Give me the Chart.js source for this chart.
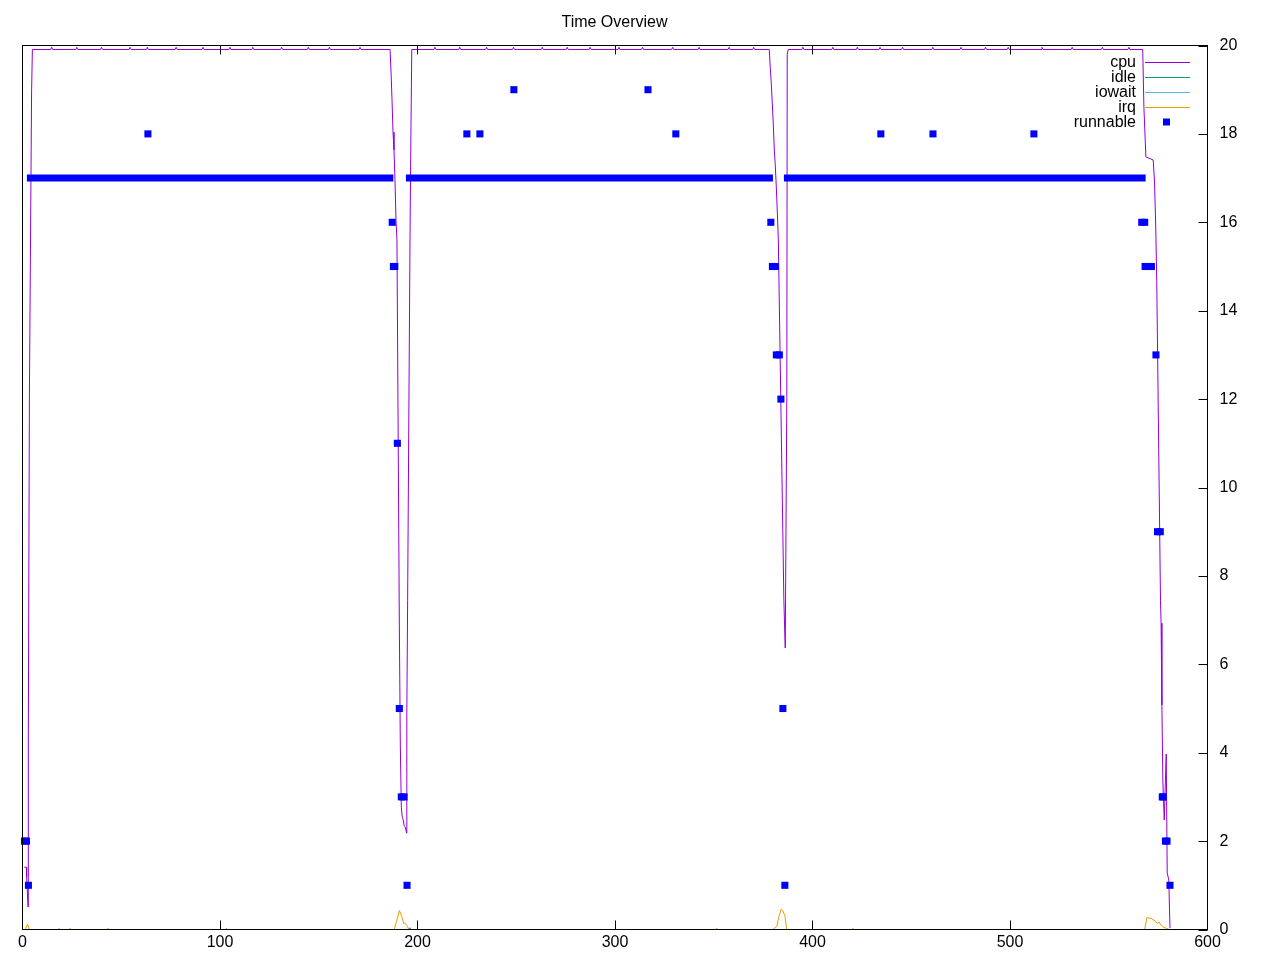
<!DOCTYPE html>
<html>
<head>
<meta charset="utf-8">
<title>Time Overview</title>
<script src="https://cdn.jsdelivr.net/npm/chart.js@4.4.1/dist/chart.umd.min.js"></script>
<style>
  html, body { margin: 0; padding: 0; background: #fff; }
  canvas { display: block; }
</style>
</head>
<body>
<canvas id="overview" width="1280" height="960"></canvas>
<script>
"use strict";

// ── Data (seconds, value) ─────────────────────────────────────────────
const seriesNames  = ['cpu', 'idle', 'iowait', 'irq', 'runnable'];
const seriesColors = ['#9400d3', '#009e73', '#56b4e9', '#e69f00', '#0000ff'];
const xTicks = [0, 100, 200, 300, 400, 500, 600];
const yTicks = [0, 2, 4, 6, 8, 10, 12, 14, 16, 18, 20];

const cpuData = [
  [0.9,1.41],[2.0,1.41],[2.1,1.19],[2.8,0.51],[2.95,4.38],[3.5,12.09],[4.6,18.95],[5.0,19.91],
  [14.3,19.91],[14.8,19.96],[15.3,19.91],
  [27.0,19.91],[27.5,19.96],[28.0,19.91],
  [39.5,19.91],[40.0,19.96],[40.5,19.91],
  [54.0,19.91],[54.5,19.96],[55.0,19.91],
  [62.7,19.91],[63.2,19.96],[63.7,19.91],
  [77.3,19.91],[77.8,19.96],[78.3,19.91],
  [90.9,19.91],[91.4,19.96],[91.9,19.91],
  [104.5,19.91],[105.0,19.96],[105.5,19.91],
  [116.1,19.91],[116.6,19.96],[117.1,19.91],
  [130.7,19.91],[131.2,19.96],[131.7,19.91],
  [144.2,19.91],[144.7,19.96],[145.2,19.91],
  [154.9,19.91],[155.4,19.96],[155.9,19.91],
  [170.4,19.91],[170.9,19.96],[171.4,19.91],
  [186.1,19.91],[186.6,19.40],[187.1,18.77],[187.6,18.04],[188.1,17.64],[188.6,16.96],
  [189.1,16.05],[189.6,15.60],[190.8,6.89],[191.3,4.17],[191.8,2.77],[192.3,2.54],
  [192.8,2.48],[193.3,2.34],[193.8,2.32],[194.5,2.18],
  [194.6,4.9],[195.0,7.45],[196.2,15.6],[196.7,18.15],[197.1,19.91],
  [208.3,19.91],[208.8,19.96],[209.3,19.91],
  [220.9,19.91],[221.4,19.96],[221.9,19.91],
  [234.5,19.91],[235.0,19.96],[235.5,19.91],
  [248.1,19.91],[248.6,19.96],[249.1,19.91],
  [262.7,19.91],[263.2,19.96],[263.7,19.91],
  [275.3,19.91],[275.8,19.96],[276.3,19.91],
  [286.9,19.91],[287.4,19.96],[287.9,19.91],
  [301.5,19.91],[302.0,19.96],[302.5,19.91],
  [313.5,19.91],[314.0,19.96],[314.5,19.91],
  [328.7,19.91],[329.2,19.96],[329.7,19.91],
  [342.1,19.91],[342.6,19.96],[343.1,19.91],
  [357.3,19.91],[357.8,19.96],[358.3,19.91],
  [369.7,19.91],[370.2,19.96],[370.7,19.91],
  [378.1,19.91],[378.6,19.50],[379.1,19.17],[379.6,18.72],[380.1,18.27],[380.6,17.70],
  [381.2,17.25],[381.7,16.78],[382.2,16.21],[382.7,15.60],[385.5,7.45],[386.2,6.37],
  [387.0,12.0],[387.2,19.8],[387.7,19.91],
  [394.6,19.91],[395.1,19.96],[395.6,19.91],
  [409.8,19.91],[410.3,19.96],[410.8,19.91],
  [422.2,19.91],[422.7,19.96],[423.2,19.91],
  [433.7,19.91],[434.2,19.96],[434.7,19.91],
  [445.1,19.91],[445.6,19.96],[446.1,19.91],
  [460.4,19.91],[460.9,19.96],[461.4,19.91],
  [474.7,19.91],[475.2,19.96],[475.7,19.91],
  [487.1,19.91],[487.6,19.96],[488.1,19.91],
  [498.6,19.91],[499.1,19.96],[499.6,19.91],
  [515.7,19.91],[516.2,19.96],[516.7,19.91],
  [531.0,19.91],[531.5,19.96],[532.0,19.91],
  [546.3,19.91],[546.8,19.96],[547.3,19.91],
  [559.7,19.91],[560.2,19.96],[560.7,19.91],
  [567.2,19.91],[567.8,18.61],[568.8,17.48],[572.5,17.41],[573.2,16.89],[573.8,15.87],
  [574.3,14.69],[576.2,7.45],[576.5,6.93],[576.9,5.08],[577.4,3.34],[578.1,2.48],
  [579.1,3.97],[579.6,1.28],[580.4,1.12],[581.0,0.03]
];

const idleData = [[0,0],[195.8,0],[196.3,0.04],[196.8,0],[581,0]];

const iowaitData = [[0,0],[581,0]];

const irqData = [
  [0,0],[1.5,0],[2.5,0.12],[3.5,0],[18,0],[18.4,0.03],[18.8,0],[23.8,0],[24.2,0.03],[24.6,0],
  [43,0],[43.4,0.03],[43.8,0],[102.8,0],[103.2,0.03],[103.6,0],
  [188.2,0],[189.5,0.2],[190.8,0.43],[192.0,0.3],[193.1,0.13],[193.5,0.15],[194.6,0.09],[195.7,0],
  [351,0],[351.4,0.03],[351.8,0],
  [380,0],[382,0.08],[383.0,0.3],[384.2,0.46],[385.0,0.42],[386.1,0.3],[386.9,0],
  [420,0],[420.4,0.03],[420.8,0],
  [568.2,0],[569.4,0.28],[570.4,0.25],[571.4,0.26],[572.4,0.22],[573.4,0.2],[574.5,0.14],
  [575.5,0.17],[576.5,0.1],[577.5,0.06],[578.5,0.04],[579.5,0.02],[580.5,0],[581,0]
];

// runnable: long runs at 17 (start, end) plus single samples
const runnableRuns = [[4,186],[195.9,378.2],[387.3,566.9]];
const runnableLevel = 17;
const runnableData = [
  [1,2],[2,2],[3,1],[63.5,18],[187.2,16],[187.8,15],[188.5,15],[189.8,11],[190.8,5],
  [191.8,3],[193.2,3],[194.7,1],[225,18],[231.6,18],[248.8,19],[316.7,19],[330.8,18],
  [378.9,16],[379.7,15],[381.2,15],[381.7,13],[383.2,13],[384,12],[385,5],[386,1],
  [434.6,18],[461,18],[512.1,18],[566.7,16],[568.2,16],[568.4,15],[570,15],[571.6,15],
  [573.9,13],[574.7,9],[576.1,9],[577.1,3],[577.6,3],[578.7,2],[579.5,2],[581,1]
];

// ── Helpers ───────────────────────────────────────────────────────────
const FONT_FAMILY = '"Liberation Sans", Arial, sans-serif';
const FONT = '16px ' + FONT_FAMILY;
const toXY = arr => arr.map(([x, y]) => ({ x, y }));

function runsToPoints(runs, level) {
  const pts = [];
  runs.forEach(([a, b], i) => {
    if (i > 0) pts.push({ x: (runs[i - 1][1] + a) / 2, y: null });  // gap between runs
    pts.push({ x: a, y: level }, { x: b, y: level });
  });
  return pts;
}

function lineSet(name, data, order) {
  const i = seriesNames.indexOf(name);
  return {
    label: name, data: toXY(data), order,
    borderColor: seriesColors[i], borderWidth: 1,
    pointRadius: 0, fill: false, tension: 0, clip: 0
  };
}

// ── Frame + inward tick marks (gnuplot style) ─────────────────────────
const framePlugin = {
  id: 'frame',
  afterDatasetsDraw(chart) {
    const { ctx, chartArea: { left, right, top, bottom }, scales: { x, y } } = chart;
    ctx.save();
    ctx.strokeStyle = '#000';
    ctx.lineWidth = 1;
    ctx.strokeRect(left, top, right - left, bottom - top);
    ctx.beginPath();
    xTicks.forEach(v => {
      const px = Math.floor(x.getPixelForValue(v)) + 0.5;
      ctx.moveTo(px, bottom); ctx.lineTo(px, bottom - 9);
      ctx.moveTo(px, top);    ctx.lineTo(px, top + 9);
    });
    yTicks.forEach(v => {
      const py = Math.round(y.getPixelForValue(v)) + 0.5;
      ctx.moveTo(right, py); ctx.lineTo(right - 9, py);
    });
    ctx.stroke();
    ctx.restore();
  }
};

// ── Title + key (text on the left, sample on the right) ───────────────
const keyPlugin = {
  id: 'gpKey',
  afterDraw(chart) {
    const c = chart.ctx;
    c.save();
    c.font = FONT;
    c.fillStyle = '#000';
    c.textAlign = 'center';
    c.textBaseline = 'middle';
    c.fillText('Time Overview', 614.5, 23);

    c.textAlign = 'right';
    seriesNames.forEach((name, i) => {
      const yy = 61 + i * 15;
      c.fillStyle = '#000';
      c.fillText(name, 1136, yy + 2);
      if (name === 'runnable') {
        c.fillStyle = seriesColors[i];
        c.fillRect(1163, yy - 2.5, 7, 7);
      } else {
        c.strokeStyle = seriesColors[i];
        c.lineWidth = 1;
        c.beginPath();
        c.moveTo(1145, yy + 1.5); c.lineTo(1190, yy + 1.5);
        c.stroke();
      }
    });
    c.restore();
  }
};

// ── Chart ─────────────────────────────────────────────────────────────
const ctx = document.getElementById('overview').getContext('2d');
new Chart(ctx, {
  type: 'line',
  data: {
    datasets: [
      lineSet('cpu', cpuData, 5),
      lineSet('idle', idleData, 4),
      lineSet('iowait', iowaitData, 3),
      lineSet('irq', irqData, 2),
      {
        label: 'runnable-runs', data: runsToPoints(runnableRuns, runnableLevel), order: 1,
        borderColor: seriesColors[4], borderWidth: 7, borderCapStyle: 'square',
        pointRadius: 0, spanGaps: false, fill: false, clip: false
      },
      {
        label: 'runnable', data: toXY(runnableData), order: 0, showLine: false,
        pointStyle: 'rect', pointRadius: 5, pointBorderWidth: 0,
        pointBackgroundColor: seriesColors[4], borderColor: seriesColors[4], clip: false
      }
    ]
  },
  options: {
    responsive: false,
    animation: false,
    events: [],
    layout: { padding: { left: 22.5, top: 45.5, right: 0, bottom: 0 } },
    plugins: {
      legend: { display: false },
      tooltip: { enabled: false },
      title: { display: false }
    },
    scales: {
      x: {
        type: 'linear', position: 'bottom', min: 0, max: 600,
        grid: { display: false }, border: { display: false },
        afterBuildTicks: s => { s.ticks = xTicks.map(v => ({ value: v })); },
        ticks: { color: '#000', font: { family: FONT_FAMILY, size: 16 }, padding: -5, maxRotation: 0 },
        afterFit: s => { s.height = 30.5; }
      },
      y: {
        type: 'linear', position: 'right', min: 0, max: 20,
        grid: { display: false }, border: { display: false },
        afterBuildTicks: s => { s.ticks = yTicks.map(v => ({ value: v })); },
        ticks: { color: '#000', font: { family: FONT_FAMILY, size: 16 }, padding: 4 },
        afterFit: s => { s.width = 72.5; }
      }
    }
  },
  plugins: [framePlugin, keyPlugin]
});
</script>
</body>
</html>
